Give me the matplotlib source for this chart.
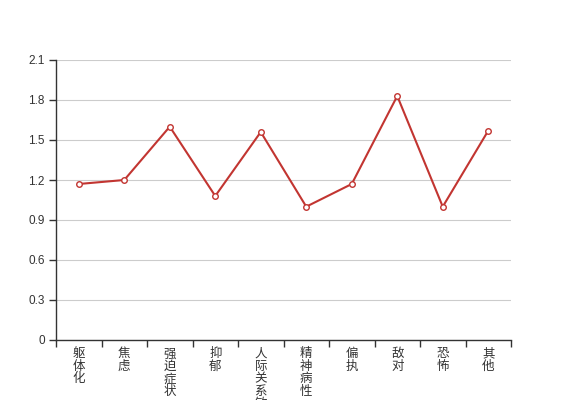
import numpy as np
import matplotlib
matplotlib.use('Agg')
import matplotlib.pyplot as plt

plt.rcParams['font.family'] = ['Liberation Sans', 'Noto Sans CJK SC', 'DejaVu Sans']

# Data
categories = ['躯体化', '焦虑', '强迫症状', '抑郁', '人际关系敏感', '精神病性', '偏执', '敌对', '恐怖', '其他']
values = [1.17, 1.20, 1.60, 1.08, 1.56, 1.00, 1.17, 1.83, 1.00, 1.57]
yticks = [0, 0.3, 0.6, 0.9, 1.2, 1.5, 1.8, 2.1]
ytick_labels = ['0', '0.3', '0.6', '0.9', '1.2', '1.5', '1.8', '2.1']

fig = plt.figure(figsize=(5.67, 4.0), dpi=100)
ax = fig.add_axes([56 / 567, 60 / 400, 455 / 567, 280 / 400])

x = np.arange(len(categories)) + 0.5
ax.plot(x, values, color='#c23531', linewidth=1.5, marker='o', markersize=4,
        markerfacecolor='white', markeredgecolor='#c23531', markeredgewidth=1.0,
        zorder=3, clip_on=False)

ax.set_xlim(0, len(categories))
ax.set_ylim(0, 2.1)

# y axis
ax.set_yticks(yticks)
ax.set_yticklabels(ytick_labels, fontsize=8.5, color='#333333')
ax.grid(axis='y', color='#cccccc', linewidth=0.8)
ax.set_axisbelow(True)

# x axis: ticks at band boundaries, labels at band centers
ax.set_xticks(np.arange(len(categories) + 1))
ax.set_xticklabels([])
ax.set_xticks(x, minor=True)
ax.set_xticklabels(['\n'.join(c) for c in categories], minor=True,
                   fontsize=9, color='#333333', linespacing=1.05, va='top')
ax.tick_params(axis='x', which='minor', length=0, pad=6)
ax.tick_params(axis='both', which='major', length=5, color='#333333', width=1)
ax.tick_params(axis='y', pad=3)

for s in ['top', 'right']:
    ax.spines[s].set_visible(False)
for s in ['left', 'bottom']:
    ax.spines[s].set_color('#333333')
    ax.spines[s].set_linewidth(1)

plt.savefig('out.png', dpi=100)
plt.close()
